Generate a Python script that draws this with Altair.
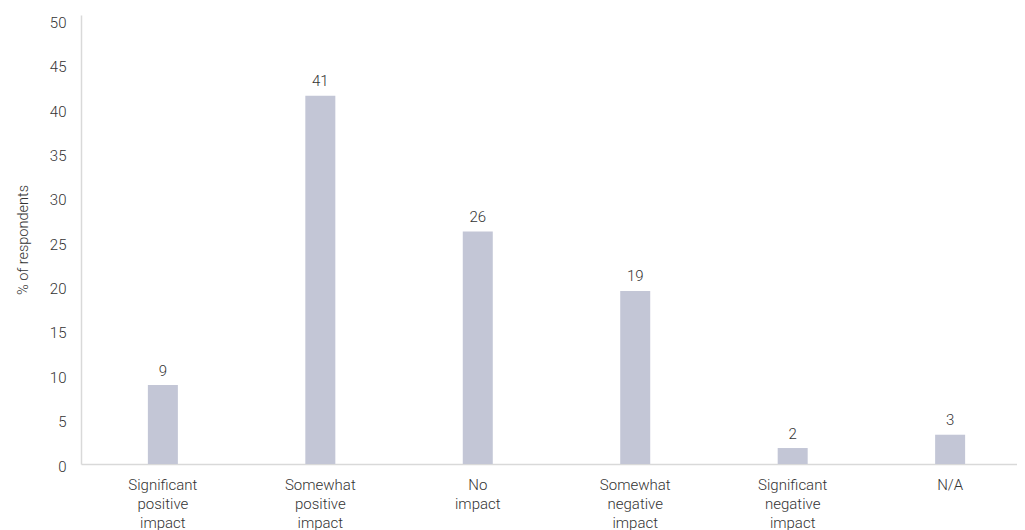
import altair as alt
import pandas as pd

categories = [
    "Significant positive impact",
    "Somewhat positive impact",
    "No impact",
    "Somewhat negative impact",
    "Significant negative impact",
    "N/A",
]
values = [8.9, 41.5, 26.2, 19.5, 1.8, 3.3]
value_labels = ["9", "41", "26", "19", "2", "3"]
y_ticks = [0, 5, 10, 15, 20, 25, 30, 35, 40, 45, 50]

df = pd.DataFrame({"category": categories, "value": values, "label": value_labels})

label_expr = (
    "datum.label == 'N/A' ? 'N/A' : "
    "(indexof(datum.label, 'No ') == 0 ? ['No', 'impact'] : split(datum.label, ' '))"
)

x = alt.X(
    "category:N",
    sort=categories,
    title=None,
    scale=alt.Scale(range=[0, 951], paddingInner=0, paddingOuter=0.02),
    axis=alt.Axis(
        labelAngle=0,
        labelExpr=label_expr,
        labelLineHeight=19,
        labelFont="Roboto",
        labelFontWeight=300,
        labelFontSize=15,
        labelColor="#333333",
        labelPadding=13,
        ticks=False,
        domainColor="#d9d9d9",
        domainWidth=1.5,
        labelLimit=200,
    ),
)
y = alt.Y(
    "value:Q",
    title="% of respondents",
    scale=alt.Scale(domain=[0, 50.6], nice=False, zero=True),
    axis=alt.Axis(
        values=y_ticks,
        grid=False,
        ticks=False,
        labelFont="Roboto",
        labelFontWeight=300,
        labelFontSize=15,
        labelColor="#333333",
        labelPadding=15,
        labelOffset=2,
        domainColor="#d9d9d9",
        domainWidth=1.5,
        titleFont="Roboto",
        titleFontWeight=300,
        titleFontSize=14.5,
        titleColor="#333333",
        titlePadding=19,
    ),
)

bars = alt.Chart(df).mark_bar(color="#c3c6d6", size=30).encode(x=x, y=y)
text = alt.Chart(df).mark_text(
    baseline="middle", dy=-14.5, font="Roboto", fontWeight=300, fontSize=15, color="#333333"
).encode(x=alt.X("category:N", sort=categories), y="value:Q", text="label:N")

chart = (
    alt.layer(bars, text)
    .properties(
        width=936,
        height=449,
        background="white",
        autosize=alt.AutoSizeParams(type="none"),
        padding={"left": 73, "top": 7, "right": 0, "bottom": 66},
    )
    .configure_view(stroke=None, strokeWidth=0)
)

chart.save("out.html", embed_options={"renderer": "svg", "actions": False})
